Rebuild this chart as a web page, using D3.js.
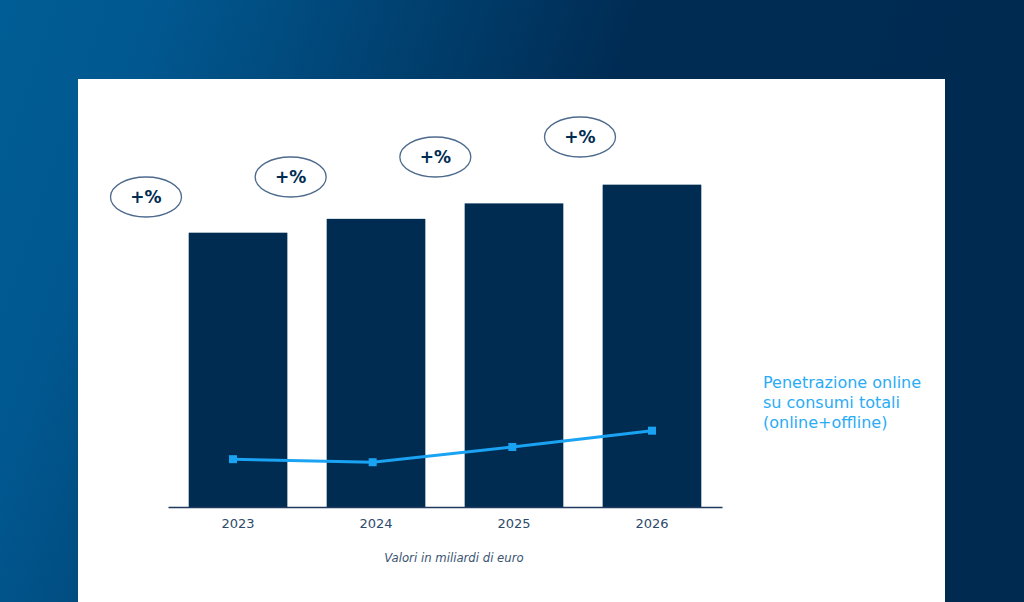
<!DOCTYPE html>
<html>
<head>
<meta charset="utf-8">
<script src="https://cdn.jsdelivr.net/npm/d3@7"></script>
<style>
  html, body { margin: 0; padding: 0; overflow: hidden; }
  body { width: 1024px; height: 602px; }
  text { font-family: "DejaVu Sans", "Noto Sans", sans-serif; }
</style>
</head>
<body>
<div id="chart"></div>
<script>
// chart values
var years = ["2023", "2024", "2025", "2026"];
var valori = [33.7, 35.4, 37.3, 39.6];          // miliardi di euro
var penetrazione = [4.7, 4.4, 5.9, 7.5];        // % online su consumi totali
var badges = ["+%", "+%", "+%", "+%"];
var legendLines = ["Penetrazione online", "su consumi totali", "(online+offline)"];
var nota = "Valori in miliardi di euro";

var W = 1024, H = 602;

var svg = d3.select("#chart").append("svg")
    .attr("width", W)
    .attr("height", H);

// background gradient
var defs = svg.append("defs");
var grad = defs.append("linearGradient")
    .attr("id", "bg")
    .attr("x1", "0%").attr("y1", "0%")
    .attr("x2", "100%").attr("y2", "20%");
grad.append("stop").attr("offset", "0%").attr("stop-color", "#015d95");
grad.append("stop").attr("offset", "15%").attr("stop-color", "#015890");
grad.append("stop").attr("offset", "60%").attr("stop-color", "#002c54");
grad.append("stop").attr("offset", "100%").attr("stop-color", "#002a50");

svg.append("rect")
    .attr("width", W).attr("height", H)
    .attr("fill", "url(#bg)");

// white panel
svg.append("rect")
    .attr("x", 78).attr("y", 79)
    .attr("width", 867).attr("height", H - 79)
    .attr("fill", "#ffffff");

var baseY = 507;

var x = d3.scaleBand()
    .domain(years)
    .range([168, 722])
    .paddingInner(0.285)
    .paddingOuter(0.15);

var y = d3.scaleLinear()
    .domain([0, 50])
    .range([baseY, 100]);

var y2 = d3.scaleLinear()
    .domain([0, 40])
    .range([baseY, 100]);

// line sits a little left of the bar centres
var xl = d3.scalePoint()
    .domain(years)
    .range([233, 652]);

// badges
var xb = d3.scalePoint()
    .domain(years)
    .range([146, 580]);
var yb = d3.scalePoint()
    .domain(years)
    .range([197, 137]);

// bars
svg.append("g").selectAll("rect")
    .data(years)
    .enter().append("rect")
    .attr("x", function(d) { return x(d); })
    .attr("y", function(d, i) { return y(valori[i]); })
    .attr("width", x.bandwidth())
    .attr("height", function(d, i) { return baseY - y(valori[i]); })
    .attr("fill", "#002c52");

// x axis
var xAxis = svg.append("g")
    .attr("transform", "translate(0," + baseY + ")")
    .call(d3.axisBottom(x).tickSize(0).tickPadding(12));
xAxis.select(".domain")
    .attr("stroke", "#1e3a5c")
    .attr("stroke-width", 1.5);
xAxis.selectAll("text")
    .attr("fill", "#2d4a6c")
    .attr("font-size", 13)
    .attr("font-family", "'DejaVu Sans', sans-serif");

// line of online penetration
var line = d3.line()
    .x(function(d) { return xl(d); })
    .y(function(d, i) { return y2(penetrazione[i]); });

svg.append("path")
    .datum(years)
    .attr("d", line)
    .attr("fill", "none")
    .attr("stroke", "#1aa3f3")
    .attr("stroke-width", 3);

svg.append("g").selectAll("rect")
    .data(years)
    .enter().append("rect")
    .attr("x", function(d) { return xl(d) - 4; })
    .attr("y", function(d, i) { return y2(penetrazione[i]) - 4; })
    .attr("width", 8)
    .attr("height", 8)
    .attr("fill", "#1aa3f3");

// +% badges
var badge = svg.append("g").selectAll("g")
    .data(years)
    .enter().append("g")
    .attr("transform", function(d) { return "translate(" + xb(d) + "," + yb(d) + ")"; });

badge.append("ellipse")
    .attr("rx", 35.5)
    .attr("ry", 20)
    .attr("fill", "#ffffff")
    .attr("stroke", "#4d6a8c")
    .attr("stroke-width", 1.3);

badge.append("text")
    .attr("text-anchor", "middle")
    .attr("dy", "0.36em")
    .attr("font-size", 17)
    .attr("font-weight", "bold")
    .attr("fill", "#002c52")
    .text(function(d, i) { return badges[i]; });

// legend text
svg.append("text")
    .attr("x", 763)
    .attr("y", 388)
    .attr("font-size", 16)
    .attr("fill", "#2aacf5")
    .selectAll("tspan")
    .data(legendLines)
    .enter().append("tspan")
    .attr("x", 763)
    .attr("dy", function(d, i) { return i === 0 ? 0 : 20; })
    .text(function(d) { return d; });

// footnote
svg.append("text")
    .attr("x", 454)
    .attr("y", 562)
    .attr("text-anchor", "middle")
    .attr("font-size", 11.7)
    .attr("font-style", "italic")
    .attr("fill", "#3a5472")
    .text(nota);
</script>
</body>
</html>
